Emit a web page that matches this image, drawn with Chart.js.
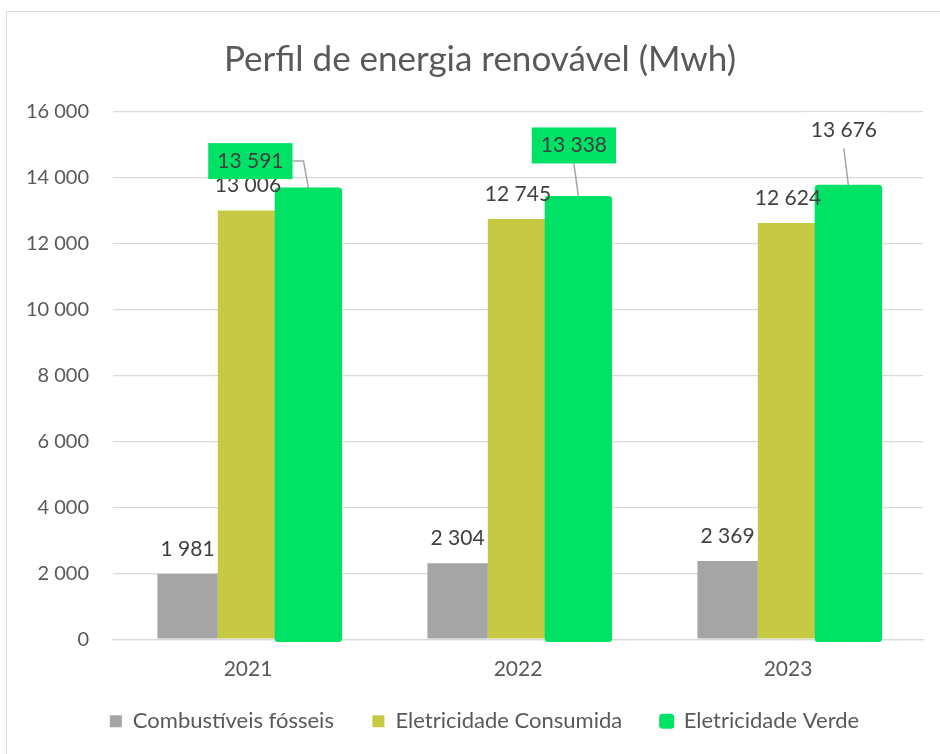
<!DOCTYPE html>
<html>
<head>
<meta charset="utf-8">
<script src="https://cdn.jsdelivr.net/npm/chart.js@4.4.1/dist/chart.umd.min.js"></script>
<style>
  html, body { margin: 0; padding: 0; background: #fff; overflow: hidden; }
  #wrap { position: relative; width: 940px; height: 754px; }
  #frame { position: absolute; left: 6px; top: 11px; width: 1000px; height: 800px;
           border-left: 1.5px solid #d9d9d9; border-top: 1.5px solid #d9d9d9; }
  canvas { position: absolute; left: 0; top: 0; }
</style>
</head>
<body>
<div id="wrap">
  <div id="frame"></div>
  <canvas id="myChart" width="940" height="754"></canvas>
</div>
<script>
const years = ['2021', '2022', '2023'];
const fossil = [1981, 2304, 2369];
const consumed = [13006, 12745, 12624];
const greenPower = [13591, 13338, 13676];
const seriesNames = ['Combustíveis fósseis', 'Eletricidade Consumida', 'Eletricidade Verde'];

const GRAY = '#a5a5a5';
const OLIVE = '#c6c944';
const GREEN = '#00e266';
const TEXT = '#595959';
const LABEL = '#404040';

const fmt = (n) => String(n).replace(/\B(?=(\d{3})+(?!\d))/g, ' ');

// title and legend sit a bit right of the plot centre, like the whole chart frame
const shiftBlocks = {
    id: 'shiftBlocks',
    afterLayout(chart) {
        chart.titleBlock.left = 37;
        chart.legend.left = 46;
    }
};

// data labels + green bars drawn on top with a rounded outer edge
const barLabels = {
    id: 'barLabels',
    afterDatasetsDraw(chart, args, opts) {
        const ctx = chart.ctx;
        const gm = chart.getDatasetMeta(2);
        ctx.save();
        gm.data.forEach((bar) => {
            const p = bar.getProps(['x', 'y', 'base', 'width'], true);
            ctx.fillStyle = GREEN;
            ctx.strokeStyle = GREEN;
            ctx.lineWidth = 7;
            ctx.lineJoin = 'round';
            ctx.beginPath();
            ctx.rect(p.x - p.width / 2, p.y, p.width, p.base - p.y);
            ctx.fill();
            ctx.stroke();
        });

        ctx.font = '21px Lato';
        ctx.textAlign = 'center';
        ctx.textBaseline = 'middle';
        [0, 1].forEach((di) => {
            chart.getDatasetMeta(di).data.forEach((bar, i) => {
                ctx.fillStyle = LABEL;
                ctx.fillText(fmt(chart.data.datasets[di].data[i]), bar.x, bar.y - 25);
            });
        });

        gm.data.forEach((bar, i) => {
            const o = opts.greenLabels[i];
            const text = fmt(greenPower[i]);
            const w = ctx.measureText(text).width + 18;
            const h = 36;
            const cx = bar.x + o.dx;
            const cy = bar.y + o.dy;
            ctx.strokeStyle = GRAY;
            ctx.lineWidth = 1.5;
            ctx.lineJoin = 'miter';
            ctx.beginPath();
            if (o.from === 'right') {
                ctx.moveTo(cx + w / 2, cy);
                ctx.lineTo(cx + w / 2 + 11, cy);
            } else {
                ctx.moveTo(cx, cy + h / 2);
            }
            ctx.lineTo(bar.x, bar.y - 3);
            ctx.stroke();
            ctx.fillStyle = o.fill;
            ctx.fillRect(cx - w / 2, cy - h / 2, w, h);
            ctx.fillStyle = LABEL;
            ctx.fillText(text, cx, cy);
        });
        ctx.restore();
    }
};

const ctx = document.getElementById('myChart').getContext('2d');
const chart = new Chart(ctx, {
    type: 'bar',
    data: {
        labels: years,
        datasets: [
            { label: seriesNames[0], data: fossil, backgroundColor: GRAY },
            { label: seriesNames[1], data: consumed, backgroundColor: OLIVE },
            { label: seriesNames[2], data: greenPower, backgroundColor: GREEN }
        ]
    },
    options: {
        responsive: false,
        animation: false,
        devicePixelRatio: 1,
        layout: { padding: { left: 0, right: 17, top: 0, bottom: 11.8 } },
        datasets: { bar: { categoryPercentage: 0.671, barPercentage: 1 } },
        scales: {
            x: {
                grid: { display: false, drawTicks: false },
                border: { display: true, color: '#d9d9d9', width: 1.3 },
                ticks: { color: TEXT, font: { family: 'Lato', size: 21 }, padding: 17.4 }
            },
            y: {
                min: 0,
                max: 16000,
                afterFit: (scale) => { scale.width = 113; },
                grid: { color: '#d9d9d9', lineWidth: 1.3, drawTicks: false },
                border: { display: false },
                ticks: {
                    stepSize: 2000,
                    color: TEXT,
                    padding: 24,
                    font: { family: 'Lato', size: 20 },
                    callback: (v) => fmt(v)
                }
            }
        },
        plugins: {
            title: {
                display: true,
                text: 'Perfil de energia renovável (Mwh)',
                color: TEXT,
                font: { family: 'Lato', size: 35, weight: 'normal' },
                padding: { top: 39, bottom: 30.7 }
            },
            legend: {
                position: 'bottom',
                labels: {
                    color: TEXT,
                    font: { family: 'Lato', size: 22 },
                    boxWidth: 12,
                    boxHeight: 12,
                    padding: 11,
                    useBorderRadius: true,
                    generateLabels: (c) => {
                        const items = Chart.defaults.plugins.legend.labels.generateLabels(c);
                        items.forEach((it, i) => {
                            it.lineWidth = i === 2 ? 3 : 0;
                            it.strokeStyle = it.fillStyle;
                            it.borderRadius = i === 2 ? 2 : 0;
                            // wider gap between entries than between rows
                            if (i < 2) it.text += '\u2003\u2002';
                        });
                        return items;
                    }
                }
            },
            tooltip: { enabled: false },
            barLabels: {
                greenLabels: [
                    { dx: -58, dy: -30, from: 'right', fill: GREEN },
                    { dx: -4.5, dy: -54, from: 'bottom', fill: GREEN },
                    { dx: -4.5, dy: -58, from: 'bottom', fill: '#ffffff' }
                ]
            }
        }
    },
    plugins: [shiftBlocks, barLabels]
});
</script>
</body>
</html>
